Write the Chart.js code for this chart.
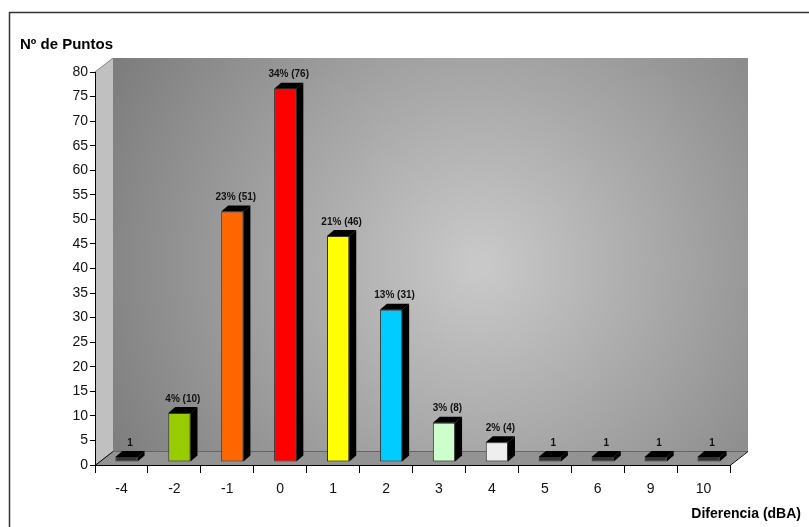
<!DOCTYPE html>
<html>
<head>
<meta charset="utf-8">
<script src="https://cdn.jsdelivr.net/npm/chart.js@4"></script>
<style>
html, body { margin: 0; padding: 0; background: #fff; }
canvas { display: block; }
</style>
</head>
<body>
<canvas id="chart" width="809" height="527"></canvas>
<script>
// ── Data ─────────────────────────────────────────────
const categories  = ['-4', '-2', '-1', '0', '1', '2', '3', '4', '5', '6', '9', '10'];
const counts      = [1, 10, 51, 76, 46, 31, 8, 4, 1, 1, 1, 1];
const barLabels   = ['1', '4% (10)', '23% (51)', '34% (76)', '21% (46)', '13% (31)', '3% (8)', '2% (4)', '1', '1', '1', '1'];
const barColors   = ['#333333', '#99cc00', '#ff6600', '#ff0000', '#ffff00', '#00ccff', '#ccffcc', '#eeeeee', '#333333', '#333333', '#333333', '#333333'];
const yMin = 0, yMax = 80, yStep = 5;

const FONT = 'Arial, "Liberation Sans", Helvetica, sans-serif';
const WALL = { dx: 18, dy: 14 };               // depth of the back wall
const BAR  = { shiftX: 5, shiftY: -3, dx: 7, dy: 6 };  // bar placement + bar depth

function poly(ctx, pts) {
    ctx.beginPath();
    pts.forEach((p, i) => i ? ctx.lineTo(p[0], p[1]) : ctx.moveTo(p[0], p[1]));
    ctx.closePath();
}
function seg(ctx, x1, y1, x2, y2) {
    ctx.beginPath(); ctx.moveTo(x1, y1); ctx.lineTo(x2, y2); ctx.stroke();
}

// ── 3D walls, frame, titles ──────────────────────────
const wall3d = {
    id: 'wall3d',
    beforeDraw(chart) {
        const { ctx, chartArea: a } = chart;
        const L = a.left, R = a.right, T = a.top, B = a.bottom, dx = WALL.dx, dy = WALL.dy;
        ctx.save();

        // outer frame
        ctx.strokeStyle = '#333';
        ctx.lineWidth = 1.5;
        ctx.beginPath(); ctx.moveTo(9.5, chart.height); ctx.lineTo(9.5, 12.5); ctx.lineTo(chart.width, 12.5); ctx.stroke();
        ctx.lineWidth = 1;

        // back wall
        const g = ctx.createRadialGradient(480, 265, 10, 480, 265, 420);
        g.addColorStop(0, '#c8c8c8');
        g.addColorStop(1, '#7c7c7c');
        ctx.fillStyle = g;
        ctx.fillRect(L + dx, T - dy, R - L, B - T);

        // side wall
        ctx.fillStyle = '#c0c0c0';
        poly(ctx, [[L, T], [L + dx, T - dy], [L + dx, B - dy], [L, B]]); ctx.fill();

        // floor
        ctx.fillStyle = '#939393';
        poly(ctx, [[L, B], [R, B], [R + dx, B - dy], [L + dx, B - dy]]); ctx.fill();

        // edges
        ctx.strokeStyle = '#666';
        seg(ctx, L + dx, B - dy + 0.5, R + dx, B - dy + 0.5);
        ctx.strokeStyle = '#000';
        seg(ctx, R, B + 0.5, R + dx, B - dy + 0.5);
        seg(ctx, L, B + 0.5, L + dx, B - dy + 0.5);
        ctx.strokeStyle = '#888';
        seg(ctx, L, T, L + dx, T - dy);

        // titles
        ctx.fillStyle = '#000';
        ctx.textBaseline = 'middle';
        ctx.font = 'bold 15px ' + FONT;
        ctx.textAlign = 'left';
        ctx.fillText('Nº de Puntos', 20, 45);
        ctx.font = 'bold 14px ' + FONT;
        ctx.textAlign = 'right';
        ctx.fillText('Diferencia (dBA)', 801, 514);
        ctx.restore();
    },
    beforeDatasetsDraw(chart) {
        chart.ctx.save();
        chart.ctx.translate(BAR.shiftX, BAR.shiftY);
    },
    afterDatasetsDraw(chart) {
        const ctx = chart.ctx;
        chart.getDatasetMeta(0).data.forEach((bar, i) => {
            const { x, y, base, width } = bar.getProps(['x', 'y', 'base', 'width'], true);
            const l = x - width / 2, r = x + width / 2;
            ctx.fillStyle = '#000';
            poly(ctx, [[r, y], [r + BAR.dx, y - BAR.dy], [r + BAR.dx, base - BAR.dy], [r, base]]); ctx.fill();
            poly(ctx, [[l, y], [l + BAR.dx, y - BAR.dy], [r + BAR.dx, y - BAR.dy], [r, y]]); ctx.fill();

            ctx.fillStyle = '#111';
            ctx.font = 'bold 10px ' + FONT;
            ctx.textAlign = 'center';
            ctx.textBaseline = 'middle';
            ctx.fillText(barLabels[i], x + BAR.dx / 2, y - BAR.dy - 8);
        });
        ctx.restore();
    }
};

// ── Chart ────────────────────────────────────────────
new Chart(document.getElementById('chart'), {
    type: 'bar',
    data: {
        labels: categories,
        datasets: [{
            data: counts,
            backgroundColor: barColors,
            borderColor: '#333',
            borderWidth: 1,
            borderSkipped: false,
            barPercentage: 0.42,
            categoryPercentage: 1
        }]
    },
    options: {
        responsive: false,
        devicePixelRatio: 1,
        animation: false,
        layout: { padding: { top: 72, right: 79, bottom: 22, left: 0 } },
        plugins: { legend: { display: false }, tooltip: { enabled: false } },
        scales: {
            x: {
                grid: { offset: true, drawOnChartArea: false, tickLength: 8, color: '#000' },
                border: { color: '#000' },
                ticks: { color: '#111', font: { family: FONT, size: 14 }, padding: 8, maxRotation: 0 },
                afterFit(s) { s.height = 40; }
            },
            y: {
                min: yMin, max: yMax,
                grid: { drawOnChartArea: false, tickLength: 5, color: '#000' },
                border: { color: '#000' },
                ticks: { stepSize: yStep, color: '#111', font: { family: FONT, size: 14 }, padding: 2 },
                afterFit(s) { s.width = 95; }
            }
        }
    },
    plugins: [wall3d]
});
</script>
</body>
</html>
